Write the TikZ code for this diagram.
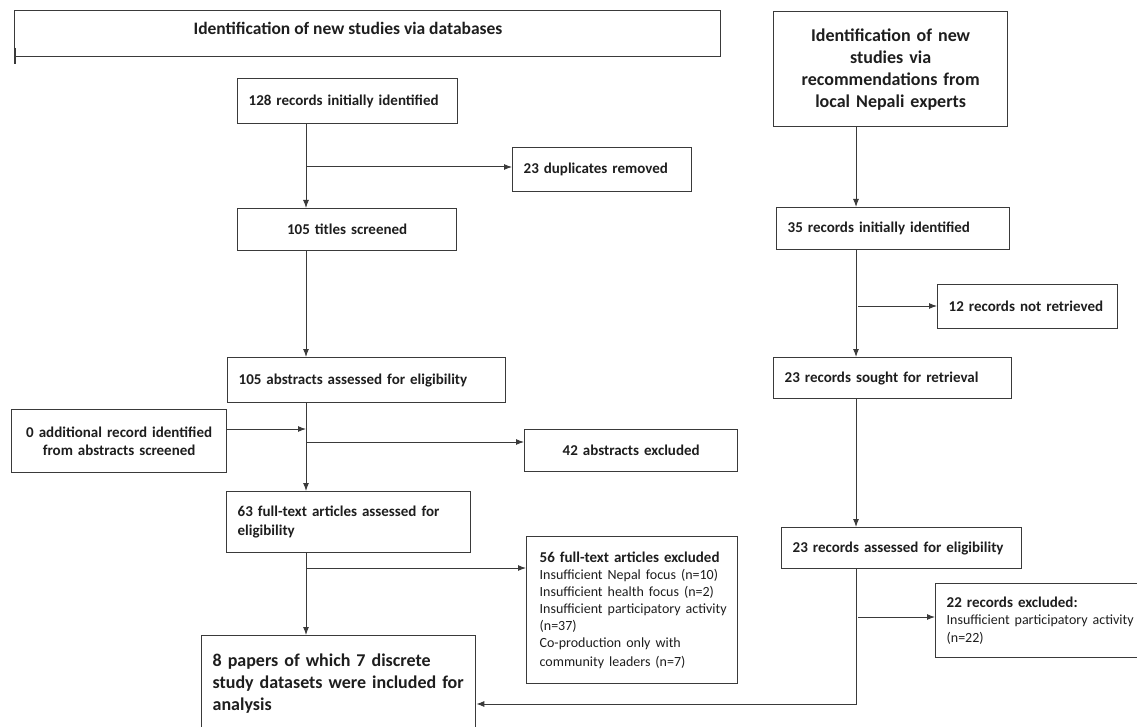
\documentclass[tikz,border=0pt]{standalone}
\usepackage{fontspec}
\setmainfont{Carlito}
\usetikzlibrary{arrows.meta}

\definecolor{linegray}{HTML}{3A3A3A}
\definecolor{textgray}{HTML}{1E1E1E}

\tikzset{
  box/.style={draw=linegray, line width=1.3pt, anchor=north west, inner xsep=11pt, inner ysep=2pt,
    align=left, text=textgray, font=\fontsize{15}{18.5}\selectfont\bfseries},
  ctrbox/.style={box, align=center},
  bigbox/.style={box, font=\fontsize{18}{22}\selectfont\bfseries},
  flow/.style={draw=linegray, line width=1pt, -{Latex[length=8pt,width=6pt]}},
}
\newcommand{\reasonfont}{\fontsize{14}{17}\selectfont\mdseries\hyphenpenalty=10000 }

\begin{document}
\begin{tikzpicture}[x=1pt,y=-1pt]
\useasboundingbox[fill=white] (0,0) rectangle (1137,727);

% Headers
\node[box, minimum width=706pt, minimum height=46pt] (dbhead) at (14,10) {};
\node[text=textgray, font=\fontsize{17.5}{22}\selectfont\bfseries] (dbtitle) at (348,28) {Identification of new studies via databases};
\draw[linegray, line width=1.3pt] (15,48) -- (15,64);
\node[bigbox, align=center, minimum width=234pt, minimum height=115pt, text width=212pt] (exphead) at (773,11)
  {Identification of new\\studies via\\recommendations from\\local Nepali experts};

% Databases column
\coordinate (colA) at (306,0);
\node[box, minimum width=220pt, minimum height=45pt, text width=198pt] (rec128) at (237,78) {128 records initially identified};
\node[box, minimum width=179pt, minimum height=44pt, text width=157pt] (dup) at (512,147) {23 duplicates removed};
\node[ctrbox, minimum width=219pt, minimum height=42pt, text width=197pt] (titles) at (237,208) {105 titles screened};
\node[box, minimum width=278pt, minimum height=45pt, text width=256pt] (abstr) at (227,357) {105 abstracts assessed for eligibility};
\node[ctrbox, minimum width=215pt, minimum height=63pt, text width=193pt] (addl) at (11,409) {0 additional record identified\\from abstracts screened};
\node[ctrbox, minimum width=213pt, minimum height=42pt, text width=191pt] (absexcl) at (524,429) {42 abstracts excluded};
\node[box, minimum width=244pt, minimum height=61pt, text width=222pt] (fulltext) at (226,491) {63 full-text articles assessed for\\eligibility};
\node[box, inner xsep=13pt, minimum width=211pt, minimum height=147pt, text width=185pt] (ftexcl) at (526,536)
  {56 full-text articles excluded\\
   \reasonfont \mbox{Insufficient Nepal focus (n=10)}\\
   \mbox{Insufficient health focus (n=2)}\\
   \mbox{Insufficient participatory activity}\\
   (n=37)\\
   Co-production only with\\
   community leaders (n=7)};
\node[bigbox, minimum width=274pt, minimum height=95pt, text width=252pt] (papers) at (201,635)
  {8 papers of which 7 discrete\\study datasets were included for\\analysis};

% Experts column
\coordinate (colB) at (856,0);
\node[box, minimum width=233pt, minimum height=42pt, text width=211pt] (rec35) at (776,207) {35 records initially identified};
\node[box, minimum width=180pt, minimum height=44pt, text width=158pt] (notret) at (937,284) {12 records not retrieved};
\node[box, minimum width=238pt, minimum height=41pt, text width=216pt] (sought) at (773,357) {23 records sought for retrieval};
\node[box, minimum width=240pt, minimum height=41pt, text width=218pt] (assessed) at (781,527) {23 records assessed for eligibility};
\node[box, minimum width=205pt, minimum height=74pt, text width=183pt] (recexcl) at (935,583)
  {22 records excluded:\\
   \reasonfont \mbox{Insufficient participatory activity}\\
   (n=22)};

% Branch points
\coordinate (brdup) at (306,167);
\coordinate (bradd) at (306,429);
\coordinate (brabs) at (306,442);
\coordinate (brft) at (306,568);
\coordinate (brnot) at (858,306);
\coordinate (brexc) at (858,617);
\coordinate (turnB) at (856,704);

% Connectors
\draw[flow] (colA |- rec128.south) -- (colA |- titles.north);
\draw[flow] (brdup) -- (brdup -| dup.west);
\draw[flow] (colA |- titles.south) -- (colA |- abstr.north);
\draw[flow] (colA |- abstr.south) -- (colA |- fulltext.north);
\draw[flow] (bradd -| addl.east) -- (bradd);
\draw[flow] (brabs) -- (brabs -| absexcl.west);
\draw[flow] (colA |- fulltext.south) -- (colA |- papers.north);
\draw[flow] (brft) -- (brft -| ftexcl.west);

\draw[flow] (colB |- exphead.south) -- (colB |- rec35.north);
\draw[flow] (colB |- rec35.south) -- (colB |- sought.north);
\draw[flow] (brnot) -- (brnot -| notret.west);
\draw[flow] (colB |- sought.south) -- (colB |- assessed.north);
\draw[flow] (colB |- assessed.south) -- (turnB) -- (turnB -| papers.east);
\draw[flow] (brexc) -- (brexc -| recexcl.west);

\end{tikzpicture}
\end{document}
